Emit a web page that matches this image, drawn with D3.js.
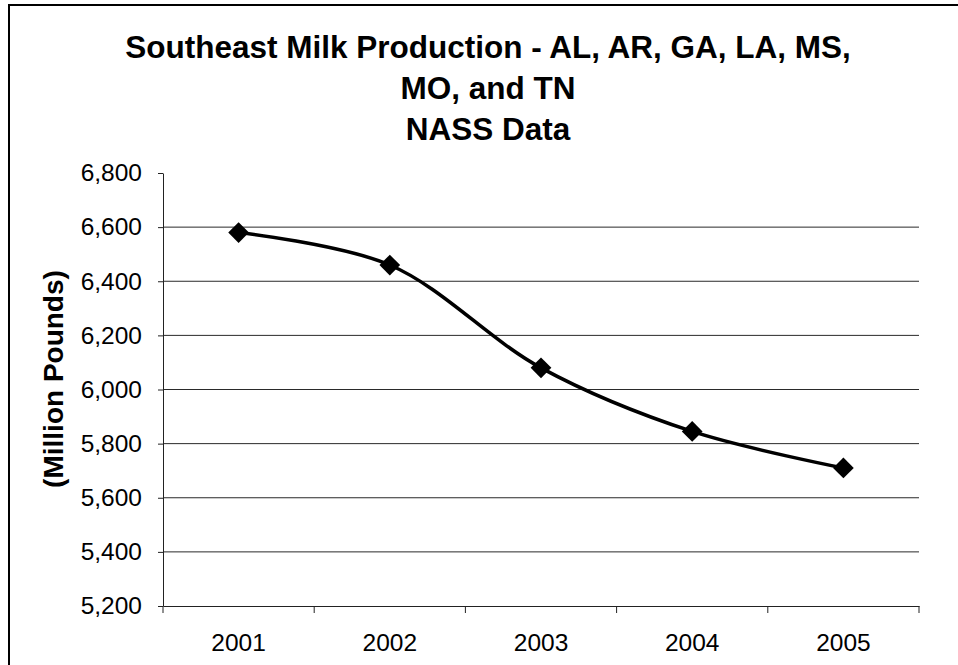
<!DOCTYPE html>
<html>
<head>
<meta charset="utf-8">
<script src="https://cdn.jsdelivr.net/npm/d3@7/dist/d3.min.js"></script>
<style>
  html, body { margin: 0; padding: 0; background: #fff; }
  svg { display: block; font-family: "Liberation Sans", Arial, sans-serif; }
</style>
</head>
<body>
<svg id="chart" width="958" height="665"></svg>
<script>
const titleLines = ["Southeast Milk Production - AL, AR, GA, LA, MS,", "MO, and TN", "NASS Data"];
const yAxisLabel = "(Million Pounds)";
const years = ["2001", "2002", "2003", "2004", "2005"];
const production = [6580, 6460, 6080, 5845, 5710];
const yTicks = [5200, 5400, 5600, 5800, 6000, 6200, 6400, 6600, 6800];

const svg = d3.select("#chart");
const W = 958, H = 665;
const plot = { left: 163, right: 919, top: 173, bottom: 606 };

svg.append("rect").attr("width", W).attr("height", H).attr("fill", "#fff");
// outer chart border (extends beyond view at right/bottom)
svg.append("rect")
  .attr("x", 9).attr("y", 5).attr("width", W + 20).attr("height", H + 20)
  .attr("fill", "none").attr("stroke", "#000").attr("stroke-width", 2);

// title
svg.append("g").selectAll("text").data(titleLines).join("text")
  .attr("x", 488)
  .attr("y", (d, i) => 58 + i * 41)
  .attr("text-anchor", "middle")
  .attr("font-size", 31.5).attr("font-weight", "bold").attr("fill", "#000")
  .text(d => d);

const x = d3.scaleBand().domain(years).range([plot.left, plot.right]).padding(0);
const y = d3.scaleLinear().domain([5200, 6800]).range([plot.bottom, plot.top]);

// gridlines
svg.append("g").selectAll("line")
  .data(yTicks.filter(v => v > 5200 && v < 6800)).join("line")
  .attr("x1", plot.left).attr("x2", plot.right)
  .attr("y1", d => y(d)).attr("y2", d => y(d))
  .attr("stroke", "#2a2a2a").attr("stroke-width", 1);

// y axis
const yAxis = svg.append("g").attr("transform", `translate(${plot.left},0)`)
  .call(d3.axisLeft(y).tickValues(yTicks).tickFormat(d3.format(",")).tickSize(5).tickSizeOuter(0).tickPadding(16));
yAxis.select(".domain").attr("stroke", "#222");
yAxis.selectAll(".tick line").attr("stroke", "#222");
yAxis.selectAll(".tick text").attr("font-size", 24.5).attr("fill", "#000")
  .attr("font-family", "'Liberation Sans', Arial, sans-serif");

// x axis
const xAxis = svg.append("g").attr("transform", `translate(0,${plot.bottom})`)
  .call(d3.axisBottom(x).tickSize(0).tickSizeOuter(0).tickPadding(28));
xAxis.select(".domain").attr("stroke", "#222");
xAxis.selectAll(".tick text").attr("font-size", 24.5).attr("fill", "#000")
  .attr("font-family", "'Liberation Sans', Arial, sans-serif");
// boundary ticks between categories
const bounds = years.map(d => x(d)).concat([x(years[years.length - 1]) + x.bandwidth()]);
xAxis.append("g").selectAll("line").data(bounds).join("line")
  .attr("x1", d => d).attr("x2", d => d).attr("y1", 0).attr("y2", 7)
  .attr("stroke", "#222").attr("stroke-width", 1);

// y axis label
svg.append("text")
  .attr("transform", "translate(53,379) rotate(-90)")
  .attr("text-anchor", "middle").attr("dominant-baseline", "central")
  .attr("font-size", 28).attr("font-weight", "bold").attr("fill", "#000")
  .text(yAxisLabel);

// line
const pts = years.map((d, i) => [x(d) + x.bandwidth() / 2, y(production[i])]);
svg.append("path")
  .attr("d", d3.line().curve(d3.curveCatmullRom.alpha(0.5))(pts))
  .attr("fill", "none").attr("stroke", "#000").attr("stroke-width", 3.5)
  .attr("stroke-linejoin", "round");

// diamond markers
svg.append("g").selectAll("path").data(pts).join("path")
  .attr("transform", d => `translate(${d[0]},${d[1]}) rotate(45)`)
  .attr("d", d3.symbol().type(d3.symbolSquare).size(215)())
  .attr("fill", "#000");
</script>
</body>
</html>
